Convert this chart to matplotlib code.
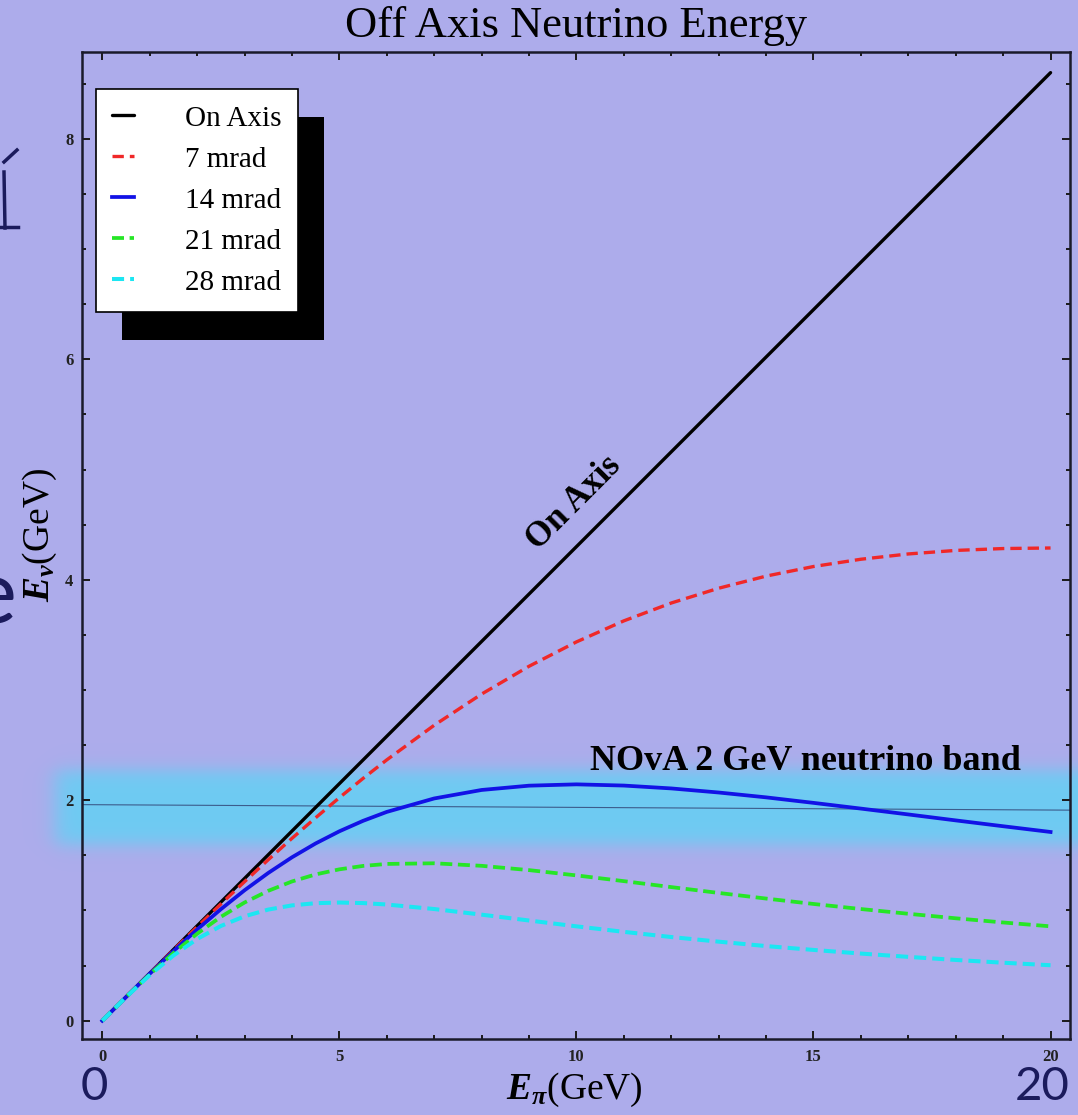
import numpy as np
import matplotlib
matplotlib.use('Agg')
import matplotlib.pyplot as plt
from matplotlib.patches import Rectangle

plt.rcParams['font.family'] = ['Liberation Serif', 'DejaVu Serif']
plt.rcParams['mathtext.fontset'] = 'custom'
plt.rcParams['mathtext.it'] = 'Liberation Serif:italic:bold'
plt.rcParams['mathtext.rm'] = 'Liberation Serif'
plt.rcParams['mathtext.bf'] = 'Liberation Serif:bold'

# values (E_pi in GeV -> E_nu in GeV)
e_pi = [0, 0.5, 1, 1.5, 2, 2.5, 3, 3.5, 4, 4.5, 5, 5.5, 6, 7, 8, 9, 10,
        11, 12, 13, 14, 15, 16, 17, 18, 19, 20]
on_axis_x = [0, 20]
on_axis_y = [0, 8.60]
mrad_7 = [0, 0.215, 0.429, 0.641, 0.851, 1.058, 1.261, 1.460, 1.654, 1.841,
          2.023, 2.198, 2.366, 2.680, 2.963, 3.215, 3.436, 3.627, 3.789,
          3.923, 4.033, 4.120, 4.186, 4.234, 4.266, 4.283, 4.288]
mrad_14 = [0, 0.214, 0.426, 0.631, 0.827, 1.011, 1.183, 1.340, 1.482, 1.608,
           1.718, 1.813, 1.894, 2.016, 2.093, 2.132, 2.144, 2.133, 2.107,
           2.070, 2.026, 1.976, 1.924, 1.871, 1.817, 1.764, 1.712]
mrad_21 = [0, 0.214, 0.420, 0.614, 0.789, 0.942, 1.072, 1.178, 1.263, 1.327,
           1.373, 1.404, 1.422, 1.428, 1.405, 1.366, 1.318, 1.266, 1.212,
           1.159, 1.108, 1.059, 1.013, 0.970, 0.929, 0.891, 0.856]
mrad_28 = [0, 0.213, 0.413, 0.591, 0.741, 0.859, 0.947, 1.008, 1.046, 1.066,
           1.072, 1.067, 1.054, 1.013, 0.962, 0.909, 0.856, 0.806, 0.759,
           0.717, 0.677, 0.642, 0.609, 0.579, 0.551, 0.526, 0.503]
band_line_x = [-0.43, 20.41]
band_line_y = [1.96, 1.91]

x_ticks = [0, 5, 10, 15, 20]
y_ticks = [0, 2, 4, 6, 8]

BG = '#ADACEB'
NAVY = '#1B1B5C'
W, H = 1078, 1115

fig = plt.figure(figsize=(W / 100, H / 100), dpi=100)
fig.patch.set_facecolor(BG)

# background layer in pixel coords: glowing NOvA band + slide leftovers
bg = fig.add_axes([0, 0, 1, 1], zorder=0)
bg.set_xlim(0, W)
bg.set_ylim(H, 0)
bg.axis('off')

yy = np.arange(730, 890)[:, None]
xx = np.arange(20, W)[None, :]
alpha = 0.5 * (1 + np.tanh((37 - np.abs(yy - 807)) / 10.0))
alpha = alpha * 0.5 * (1 + np.tanh((xx - 55) / 12.0))
band = np.zeros((yy.shape[0], xx.shape[1], 4))
band[..., 0] = 0x6E / 255
band[..., 1] = 0xCB / 255
band[..., 2] = 0xF3 / 255
band[..., 3] = alpha
bg.imshow(band, extent=(20, W, 890, 730), aspect='auto', interpolation='bilinear')

bg.plot([4, 5], [172, 228], color=NAVY, lw=2.5)
bg.plot([0, 18], [227, 227], color=NAVY, lw=2.5)
bg.plot([4, 17], [162, 150], color=NAVY, lw=2.5)
bg.text(16, 598, 'e', ha='right', va='center', fontsize=64, color=NAVY,
        family='Lato')

# main plot
ax = fig.add_axes([81.7 / W, 76 / H, 988.3 / W, 987.3 / H], zorder=1)
ax.set_facecolor('none')

ax.plot(band_line_x, band_line_y, color='#3C5C8C', lw=0.8)
ax.plot(on_axis_x, on_axis_y, color='black', lw=2.4, label='On Axis',
        solid_capstyle='round')
ax.plot(e_pi, mrad_7, color='#F02828', lw=2.4, ls=(0, (3.4, 1.8)), label='7 mrad')
ax.plot(e_pi, mrad_14, color='#1212E6', lw=2.7, label='14 mrad')
ax.plot(e_pi, mrad_21, color='#26E626', lw=2.7, ls=(0, (3.2, 1.5)), label='21 mrad')
ax.plot(e_pi, mrad_28, color='#1CE6F2', lw=2.9, ls=(0, (3.0, 1.5)), label='28 mrad')

ax.set_xlim(-0.434, 20.41)
ax.set_ylim(-0.166, 8.79)
ax.set_xticks(x_ticks)
ax.set_yticks(y_ticks)
ax.set_xticks(np.arange(0, 21, 1), minor=True)
ax.set_yticks(np.arange(0, 8.6, 0.5), minor=True)
ax.tick_params(which='both', direction='in', top=True, right=True,
               width=1.4, colors='#1a1a1a')
ax.tick_params(which='major', length=6)
ax.tick_params(which='minor', length=3)
ax.tick_params(axis='x', pad=7)
ax.tick_params(axis='y', pad=6)
for lab in ax.get_xticklabels() + ax.get_yticklabels():
    lab.set_fontsize(12)
    lab.set_fontweight('bold')
    lab.set_color('#222222')
for sp in ax.spines.values():
    sp.set_linewidth(1.8)
    sp.set_color('#1a1a2a')

ax.text(9.95, 4.70, 'On Axis', rotation=45, rotation_mode='anchor',
        ha='center', va='center', fontsize=25, fontweight='bold')
ax.text(14.82, 2.27, 'NOvA 2 GeV neutrino band', ha='center', va='baseline',
        fontsize=26, fontweight='bold')

leg = ax.legend(loc='upper left', bbox_to_anchor=(0.0145, 0.962),
                borderaxespad=0, fontsize=21, frameon=True, fancybox=False,
                framealpha=1, edgecolor='black', handlelength=0.75,
                handletextpad=1.75, labelspacing=0.5, borderpad=0.55)
leg.get_frame().set_linewidth(1.2)

fig.text(576 / W, 1 - 37 / H, 'Off Axis Neutrino Energy', ha='center',
         va='baseline', fontsize=32)
fig.text(574 / W, 1 - 1090 / H, r'$E_{\pi}$(GeV)', ha='center', va='center',
         fontsize=27)
fig.text(40 / W, 1 - 535 / H, r'$E_{\nu}$(GeV)', ha='center', va='center',
         rotation=90, fontsize=27)
fig.text(94 / W, 1 - 1087 / H, '0', ha='center', va='center', fontsize=34,
         color=NAVY, family='Lato')
fig.text(1042 / W, 1 - 1087 / H, '20', ha='center', va='center', fontsize=34,
         color=NAVY, family='Lato')

# black drop shadow behind the legend box
fig.canvas.draw()
bb = leg.get_window_extent()
bg.add_patch(Rectangle((bb.x0 + 26, H - bb.y1 + 28), bb.width, bb.height,
                       facecolor='black', edgecolor='none'))

fig.savefig('out.png', dpi=100, facecolor=fig.get_facecolor())
